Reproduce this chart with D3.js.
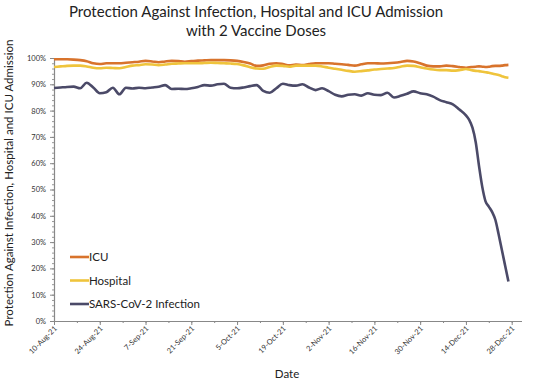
<!DOCTYPE html>
<html>
<head>
<meta charset="utf-8">
<script src="https://cdn.jsdelivr.net/npm/d3@7"></script>
<style>
	body { margin: 0; background: #fff; }
	text { font-family: Lato, 'Open Sans', sans-serif; }
</style>
</head>
<body>
<div class="chart"></div>
<script>
// dates of the readings (every 2 days, then daily over the drop)
let dates = [
	'10-Aug-21', '12-Aug-21', '14-Aug-21', '16-Aug-21', '18-Aug-21', '20-Aug-21', '22-Aug-21', '24-Aug-21',
	'26-Aug-21', '28-Aug-21', '30-Aug-21', '1-Sep-21', '3-Sep-21', '5-Sep-21', '7-Sep-21', '9-Sep-21',
	'11-Sep-21', '13-Sep-21', '15-Sep-21', '17-Sep-21', '19-Sep-21', '21-Sep-21', '23-Sep-21', '25-Sep-21',
	'27-Sep-21', '29-Sep-21', '1-Oct-21', '3-Oct-21', '5-Oct-21', '7-Oct-21', '9-Oct-21', '11-Oct-21',
	'13-Oct-21', '15-Oct-21', '17-Oct-21', '19-Oct-21', '21-Oct-21', '23-Oct-21', '25-Oct-21', '27-Oct-21',
	'29-Oct-21', '31-Oct-21', '2-Nov-21', '4-Nov-21', '6-Nov-21', '8-Nov-21', '10-Nov-21', '12-Nov-21',
	'14-Nov-21', '16-Nov-21', '18-Nov-21', '20-Nov-21', '22-Nov-21', '24-Nov-21', '26-Nov-21', '28-Nov-21',
	'30-Nov-21', '2-Dec-21', '4-Dec-21', '6-Dec-21', '8-Dec-21', '10-Dec-21', '12-Dec-21', '14-Dec-21',
	'15-Dec-21', '16-Dec-21', '17-Dec-21', '18-Dec-21', '19-Dec-21', '20-Dec-21', '21-Dec-21', '22-Dec-21',
	'23-Dec-21', '24-Dec-21', '25-Dec-21', '26-Dec-21', '27-Dec-21'
];

let icu = [
	99.5, 99.5, 99.5, 99.4, 99.2, 98.8, 98.0, 97.7,
	98.0, 98.0, 98.0, 98.2, 98.4, 98.6, 98.9, 98.7,
	98.4, 98.7, 98.9, 98.8, 98.6, 98.8, 99.0, 99.1,
	99.2, 99.2, 99.2, 99.1, 98.9, 98.5, 97.9, 97.0,
	97.2, 97.8, 98.0, 97.7, 97.2, 97.5, 97.3, 97.7,
	98.0, 98.0, 98.0, 97.8, 97.6, 97.4, 97.1, 97.6,
	98.0, 98.0, 97.9, 98.0, 98.2, 98.5, 98.9, 98.7,
	98.0, 97.1, 96.8, 96.8, 97.1, 96.9, 96.6, 96.3,
	96.5, 96.6, 96.7, 96.8, 96.7, 96.6, 96.7, 96.9,
	97.0, 97.0, 97.1, 97.3, 97.4
];

let hospital = [
	96.6, 96.8, 97.0, 97.1, 97.1, 96.8, 96.3, 96.1,
	96.3, 96.2, 96.1, 96.6, 97.1, 97.3, 97.6, 97.5,
	97.3, 97.5, 97.8, 97.9, 98.0, 98.0, 98.0, 98.1,
	98.2, 98.1, 98.0, 97.9, 97.7, 97.2, 96.5, 96.0,
	95.9, 96.6, 97.1, 97.0, 96.7, 97.1, 97.1, 97.1,
	97.1, 96.8, 96.3, 95.9, 95.5, 95.1, 94.8, 95.0,
	95.3, 95.6, 95.8, 96.0, 96.2, 96.7, 97.1, 97.0,
	96.5, 96.0, 95.6, 95.4, 95.4, 95.2, 95.4, 95.8,
	95.6, 95.3, 95.1, 95.0, 94.8, 94.6, 94.4, 94.1,
	93.8, 93.5, 93.1, 92.7, 92.5
];

let infection = [
	88.6, 88.8, 89.0, 89.1, 88.5, 90.6, 88.8, 86.6,
	87.0, 88.7, 86.2, 88.7, 88.4, 88.7, 88.5, 88.8,
	89.1, 89.7, 88.2, 88.3, 88.2, 88.5, 89.0, 89.7,
	89.5, 90.0, 90.2, 88.7, 88.5, 88.8, 89.3, 89.7,
	87.5, 86.8, 88.5, 90.2, 89.7, 89.5, 90.0, 88.8,
	87.8, 88.5, 87.4, 86.0, 85.4, 86.0, 86.2, 85.7,
	86.6, 86.0, 85.9, 86.8, 85.0, 85.6, 86.4, 87.3,
	86.6, 86.2, 85.3, 84.0, 83.2, 82.4, 80.4, 78.2,
	76.5, 73.5, 68.0, 59.0, 51.0, 45.5, 43.5, 41.5,
	38.5, 33.0, 27.0, 21.0, 15.0
];

let tickDates = [
	'10-Aug-21', '24-Aug-21', '7-Sep-21', '21-Sep-21', '5-Oct-21', '19-Oct-21',
	'2-Nov-21', '16-Nov-21', '30-Nov-21', '14-Dec-21', '28-Dec-21'
];
let yTicks = [0, 10, 20, 30, 40, 50, 60, 70, 80, 90, 100];

let seriesNames = ['ICU', 'Hospital', 'SARS-CoV-2 Infection'];
let seriesColors = ['#d8732c', '#efc43c', '#4b4a68'];

let w = 557;
let h = 389;
let parse = d3.timeParse('%d-%b-%y');
let fmt = d3.timeFormat('%-d-%b-%y');

let svg = d3.select('.chart').append('svg').attr('width', w).attr('height', h);

let xScale = d3.scaleTime().domain([ parse('10-Aug-21'), parse('31-Dec-21') ]).range([ 54, 521.5 ]);
let yScale = d3.scaleLinear().domain([ 0, 100 ]).range([ 321, 58 ]);

// Title
svg
	.append('text')
	.attr('x', 256)
	.attr('y', 17)
	.attr('text-anchor', 'middle')
	.attr('font-size', '15px')
	.attr('fill', '#222')
	.text('Protection Against Infection, Hospital and ICU Admission');
svg
	.append('text')
	.attr('x', 256)
	.attr('y', 36)
	.attr('text-anchor', 'middle')
	.attr('font-size', '15px')
	.attr('fill', '#222')
	.text('with 2 Vaccine Doses');

// y label
svg
	.append('text')
	.attr('transform', 'translate(13,' + 183 + ') rotate(-90)')
	.attr('text-anchor', 'middle')
	.attr('font-size', '11.5px')
	.attr('fill', '#222')
	.text('Protection Against Infection, Hospital and ICU Admission');

// x label
svg
	.append('text')
	.attr('x', 287)
	.attr('y', 378)
	.attr('text-anchor', 'middle')
	.attr('font-size', '11.5px')
	.attr('fill', '#222')
	.text('Date');

// minor y ticks
svg
	.append('g')
	.attr('transform', 'translate(54,0)')
	.call(d3.axisLeft(yScale).tickValues(d3.range(0, 101, 2)).tickSize(2).tickFormat(''))
	.call((g) => g.select('.domain').remove())
	.call((g) => g.selectAll('line').attr('stroke', '#999'));

// y axis
svg
	.append('g')
	.attr('id', 'y-axis')
	.attr('transform', 'translate(54,0)')
	.call(d3.axisLeft(yScale).tickValues(yTicks).tickSize(4).tickSizeOuter(0).tickFormat((d) => d + '%'))
	.call((g) => g.select('.domain').attr('stroke', '#888').attr('stroke-width', 1.2))
	.call((g) => g.selectAll('.tick line').attr('stroke', '#888'))
	.call((g) =>
		g.selectAll('text').attr('font-size', '7.5px').attr('fill', '#333').attr('x', -8).style('font-family', 'Lato, sans-serif')
	);

// minor x ticks (weekly)
svg
	.append('g')
	.attr('transform', 'translate(0,321)')
	.call(d3.axisBottom(xScale).tickValues(d3.timeDay.range(parse('10-Aug-21'), parse('31-Dec-21'), 7)).tickSize(2).tickFormat(''))
	.call((g) => g.select('.domain').remove())
	.call((g) => g.selectAll('line').attr('stroke', '#888'));

// x axis
svg
	.append('g')
	.attr('id', 'x-axis')
	.attr('transform', 'translate(0,321)')
	.call(d3.axisBottom(xScale).tickValues(tickDates.map(parse)).tickSize(4).tickSizeOuter(0).tickFormat(fmt))
	.call((g) => g.select('.domain').attr('stroke', '#888').attr('stroke-width', 1.2))
	.call((g) => g.selectAll('.tick line').attr('stroke', '#888'))
	.call((g) =>
		g
			.selectAll('text')
			.attr('font-size', '7.5px')
			.attr('fill', '#333')
			.attr('text-anchor', 'end')
			.attr('dy', 0)
			.attr('y', 0)
			.attr('transform', 'translate(3,8) rotate(-45)')
			.style('font-family', 'Lato, sans-serif')
	);

// lines
let dateVals = dates.map(parse);
let allSeries = [icu, hospital, infection];
let line = d3
	.line()
	.x((d, i) => xScale(dateVals[i]))
	.y((d) => yScale(d))
	.curve(d3.curveMonotoneX);

allSeries.forEach((s, k) => {
	svg
		.append('path')
		.datum(s)
		.attr('fill', 'none')
		.attr('stroke', seriesColors[k])
		.attr('stroke-width', 2.6)
		.attr('stroke-linejoin', 'round')
		.attr('d', line);
});

// legend
let legend = svg.append('g').attr('transform', 'translate(70,257)');
seriesNames.forEach((name, k) => {
	let row = legend.append('g').attr('transform', 'translate(0,' + k * 23.5 + ')');
	row.append('line').attr('x1', 0).attr('x2', 19).attr('y1', 0).attr('y2', 0).attr('stroke', seriesColors[k]).attr('stroke-width', 2.6);
	row.append('text').attr('x', 19).attr('y', 4).attr('font-size', '11.5px').attr('fill', '#222').text(name);
});
</script>
</body>
</html>
